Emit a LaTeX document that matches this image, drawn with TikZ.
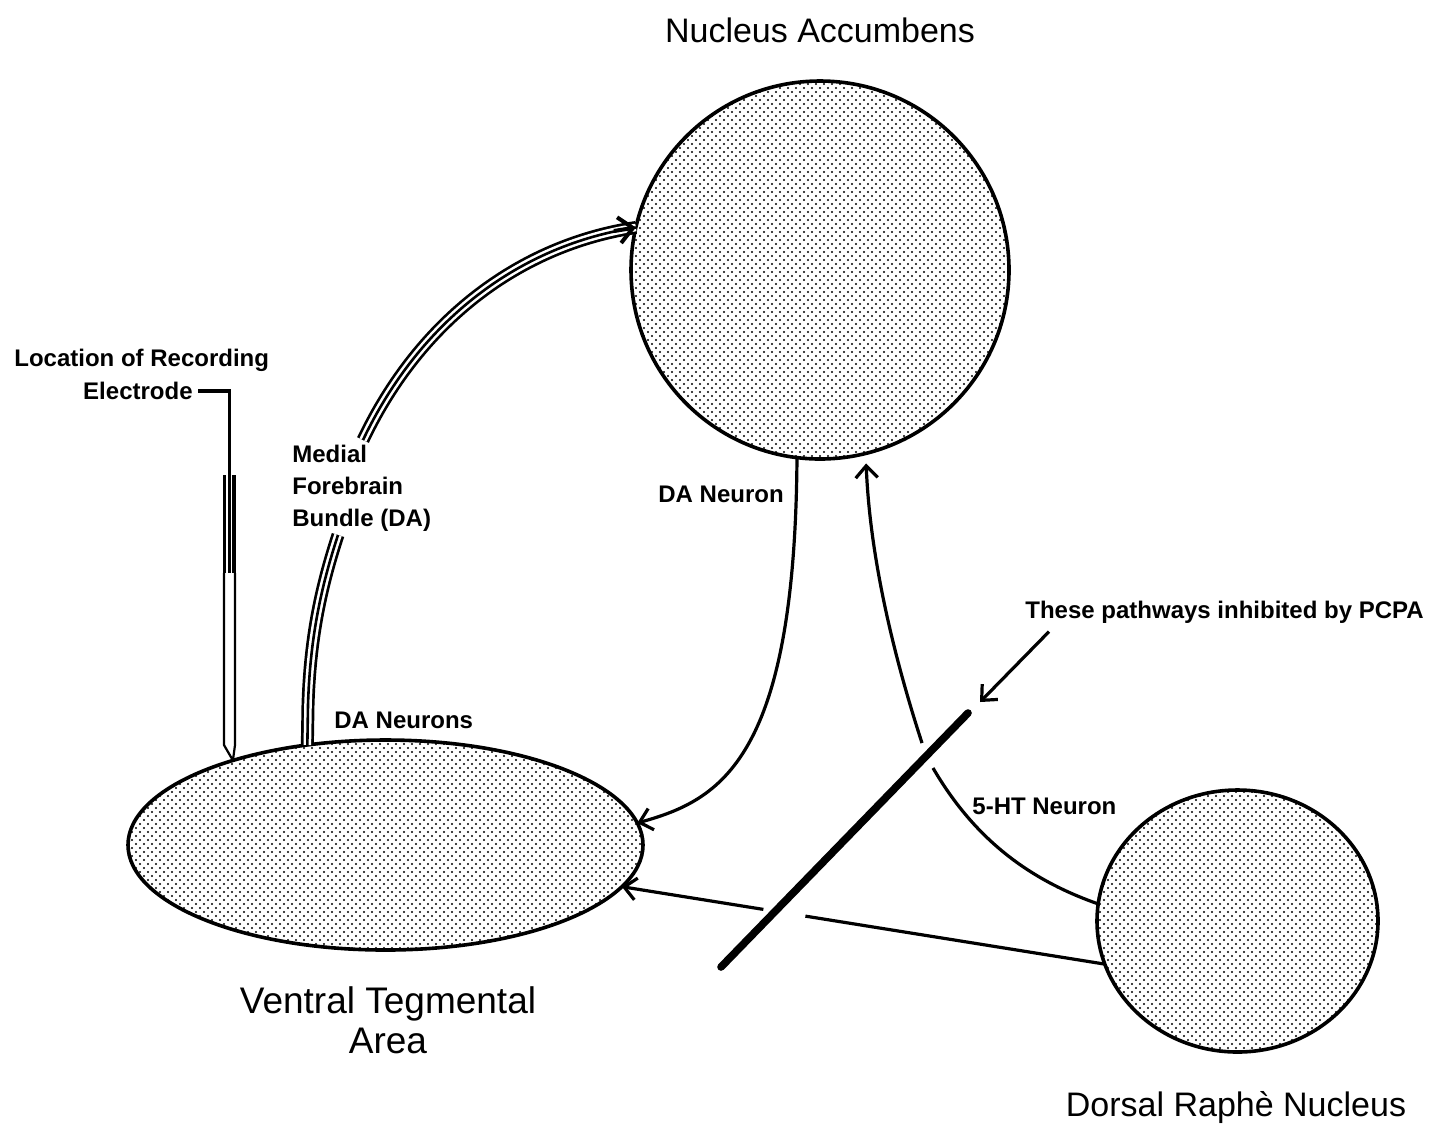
\documentclass[tikz,border=0pt]{standalone}
\usepackage{fontspec}
\setmainfont{Liberation Sans}
\usetikzlibrary{arrows.meta,shapes.geometric,patterns,calc}
\pgfdeclarepatternformonly{stipple}{\pgfqpoint{-1pt}{-1pt}}{\pgfqpoint{5pt}{5pt}}{\pgfqpoint{4pt}{4pt}}{%
  \pgfpathcircle{\pgfqpoint{0pt}{0pt}}{0.6pt}%
  \pgfpathcircle{\pgfqpoint{2pt}{2pt}}{0.6pt}%
  \pgfusepath{fill}}
\begin{document}
\begin{tikzpicture}[x=0.5pt,y=-0.5pt,
  region/.style={draw, line width=1.8pt, pattern=stipple, inner sep=0pt, outer sep=0pt},
  big/.style={font=\fontsize{17}{20}\selectfont, inner sep=0pt},
  small/.style={font=\bfseries\fontsize{12}{16}\selectfont, inner sep=0pt},
  conn/.style={line width=1.6pt, -{Straight Barb[length=6pt,width=11pt]}},
  plain/.style={line width=1.6pt},
  mfb/.style={line width=6.5pt, postaction={draw=white,line width=3.8pt}, postaction={draw=black,line width=1.3pt}}
]
\useasboundingbox (0,0) rectangle (1438,1132);
% regions
\node[region, circle, minimum size=189pt] (nac) at (820,270) {};
\node[region, ellipse, minimum width=257.5pt, minimum height=105pt] (vta) at (385.5,845) {};
\node[region, ellipse, minimum width=140.5pt, minimum height=131pt] (drn) at (1237.5,921) {};
% titles
\node[big] (nactitle) at (820,30) {Nucleus Accumbens};
\node[big, font=\fontsize{18.5}{20}\selectfont, align=center] (vtatitle) at (388,1020) {Ventral Tegmental\\Area};
\node[big] (drntitle) at (1236,1107) {Dorsal Raphè Nucleus};
% small labels
\node[small, anchor=west] (loc) at (14,360) {Location of Recording};
\node[small, anchor=east] (elec) at (193,391) {Electrode};
\node[small, anchor=west, align=left] (mfblbl) at (292,488) {Medial\\Forebrain\\Bundle (DA)};
\node[small, anchor=west] (danrs) at (334,720) {DA Neurons};
\node[small, anchor=west] (dan) at (658,494) {DA Neuron};
\node[small, anchor=west] (ht) at (972,806) {5-HT Neuron};
\node[small, anchor=west] (pcpa) at (1025,612) {These pathways inhibited by PCPA};
% electrode
\coordinate (etip) at (vta.151.5);
\coordinate (ewire) at (229.5,391);
\draw[plain] ($(elec.east)+(5,0)$) -- (ewire) -- (229.5,573);
\draw[line width=1.8pt] (224.5,475) -- (224.5,573) (234,475) -- (234,573);
\draw[line width=1.1pt, line join=round] (224,573) -- (224,745) -- (etip) -- (235,745) -- (235,573);
% medial forebrain bundle
\draw[mfb] (vta.128) -- (308,705) .. controls (310,640) and (320,590) .. (338,535);
\draw[mfb] (363,440) .. controls (420,320) and (520,245) .. (nac.167);
\draw[line width=2pt, -{Straight Barb[length=7pt,width=13pt]}] ($(nac.167)+(-22,3.5)$) -- (nac.167);
% DA neuron
\draw[conn] (nac.-97) .. controls (795,760) and (720,800) .. (vta.5);
% 5-HT neuron
\coordinate (htlo) at (933,768);
\coordinate (hthi) at (922,743);
\draw[plain] (drn.173) .. controls (1030,880) and (975,840) .. (htlo);
\draw[conn, shorten >=5pt] (hthi) .. controls (895,660) and (870,560) .. (nac.-76);
% bottom pathway
\coordinate (bR) at ($(drn.198)!0.62!(vta.-10)$);
\coordinate (bL) at ($(drn.198)!0.707!(vta.-10)$);
\draw[plain] (drn.198) -- (bR);
\draw[conn] (bL) -- (vta.-10);
% PCPA bar
\coordinate (bartop) at (968,713);
\coordinate (barbot) at (721,967);
\draw[line width=3.8pt, line cap=round] (bartop) -- (barbot);
\draw[conn] ($(pcpa.south west)+(24,8)$) -- ($(bartop)+(12,-11)$);
\end{tikzpicture}
\end{document}
